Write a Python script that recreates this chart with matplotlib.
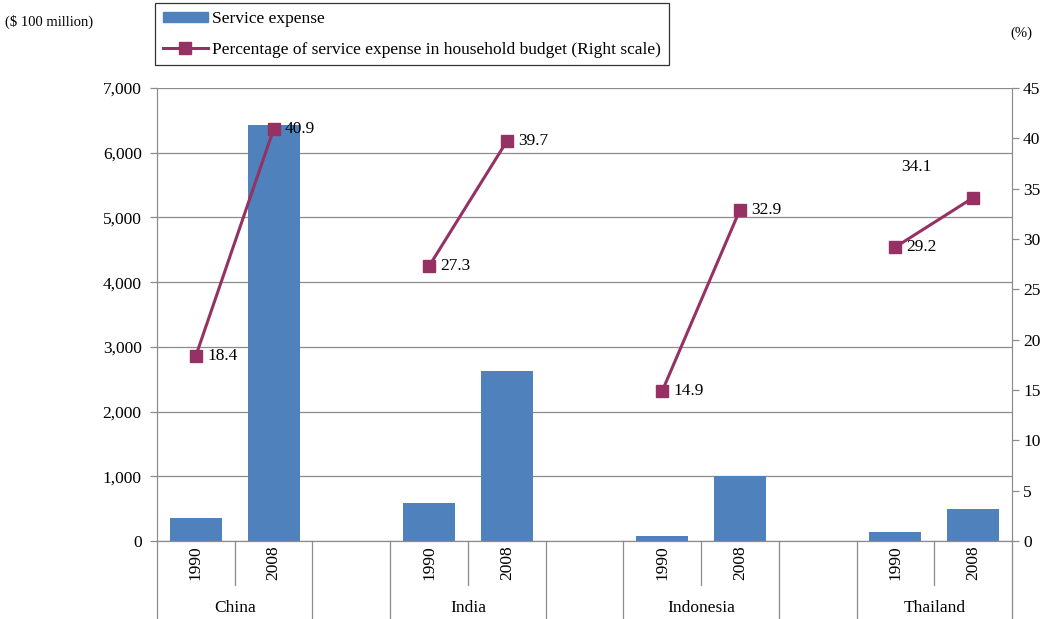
import numpy as np
import matplotlib.pyplot as plt
from matplotlib.lines import Line2D
from matplotlib.patches import Patch

plt.rcParams['font.family'] = ['Liberation Serif', 'DejaVu Serif']

countries = ["China", "India", "Indonesia", "Thailand"]
years = ["1990", "2008"]
# service expense, $100 million (1990, 2008 per country)
expense = [360, 6430, 590, 2625, 80, 1005, 140, 495]
# share of service expense in household budget, %
share = [18.4, 40.9, 27.3, 39.7, 14.9, 32.9, 29.2, 34.1]

bar_color = "#4F81BD"
line_color = "#953163"
grid_color = "#8c8c8c"
fs = 12.5

# slot positions: two years per country, an empty slot between countries
pos = []
for i in range(len(countries)):
    pos += [3 * i, 3 * i + 1]
pos = np.array(pos, dtype=float)

fig = plt.figure(figsize=(10.43, 6.19), dpi=100)
ax = fig.add_axes([157 / 1043, 1 - 541 / 619, (1012 - 157) / 1043, (541 - 88) / 619])
ax2 = ax.twinx()

ax.bar(pos, expense, width=0.67, color=bar_color, zorder=2)
ax.set_xlim(-0.5, 10.5)
ax.set_ylim(0, 7000)
ax.set_yticks(np.arange(0, 7001, 1000))
ax.set_yticklabels([f"{v:,}" for v in range(0, 7001, 1000)], fontsize=fs)
ax.yaxis.grid(True, color=grid_color, lw=0.9, zorder=0)
ax.set_axisbelow(True)
ax.set_xticks([])

ax2.set_ylim(0, 45)
ax2.set_yticks(np.arange(0, 46, 5))

for a in (ax, ax2):
    for s in ("top", "bottom"):
        a.spines[s].set_visible(False)
    for s in ("left", "right"):
        a.spines[s].set_color(grid_color)
ax.tick_params(axis='y', color=grid_color, length=5, width=0.9, pad=6)
ax2.tick_params(axis='y', color=grid_color, length=5, width=0.9, pad=3, labelsize=fs)
ax.axhline(0, color=grid_color, lw=0.9, zorder=3, clip_on=False)

# percentage line, one segment per country
for i in range(len(countries)):
    ax2.plot(pos[2 * i:2 * i + 2], share[2 * i:2 * i + 2], color=line_color, lw=2.2,
             marker="s", markersize=9, zorder=4)

offsets = [(8, 0), (8, 0), (8, 0), (8, 0), (8, 0), (8, 0), (8, 0), (-52, 22)]
for x, v, off in zip(pos, share, offsets):
    ax2.annotate(f"{v}", (x, v), xytext=off, textcoords="offset points",
                 ha="left", va="center", fontsize=fs)

# category axis: year labels and separators under the plot
trans = ax.get_xaxis_transform()
ax_h_px = 541 - 88
y_year_sep = -(585 - 541) / ax_h_px
y_bottom = -(619 - 541) / ax_h_px
for k, x in enumerate(pos):
    ax.text(x, -(563 - 541) / ax_h_px, years[k % 2], transform=trans, rotation=90,
            ha="center", va="center", fontsize=fs)
for b in np.arange(-0.5, 11, 1.0):
    year_sep = (b % 3) == 0.5
    ybot = y_year_sep if year_sep else y_bottom
    ax.add_line(Line2D([b, b], [0, ybot], transform=trans, color=grid_color,
                       lw=0.9, clip_on=False))
for i, c in enumerate(countries):
    ax.text(3 * i + 0.5, -(608 - 541) / ax_h_px, c, transform=trans,
            ha="center", va="center", fontsize=fs)

fig.text(5 / 1043, 1 - 22 / 619, "($ 100 million)", fontsize=10.5, va="center")
fig.text(1010 / 1043, 1 - 33 / 619, "(%)", fontsize=10.5, va="center")

handles = [Patch(color=bar_color),
           Line2D([], [], color=line_color, lw=2.2, marker="s", markersize=9)]
leg = fig.legend(handles, ["Service expense",
                           "Percentage of service expense in household budget (Right scale)"],
                 loc="upper left", bbox_to_anchor=(155 / 1043, 1 - 3 / 619),
                 fancybox=False, edgecolor="black", fontsize=fs,
                 handlelength=2.6, handleheight=0.5, labelspacing=0.85,
                 borderpad=0.45, handletextpad=0.25, borderaxespad=0)
leg.get_frame().set_linewidth(0.9)

fig.savefig("out.png", dpi=100)
